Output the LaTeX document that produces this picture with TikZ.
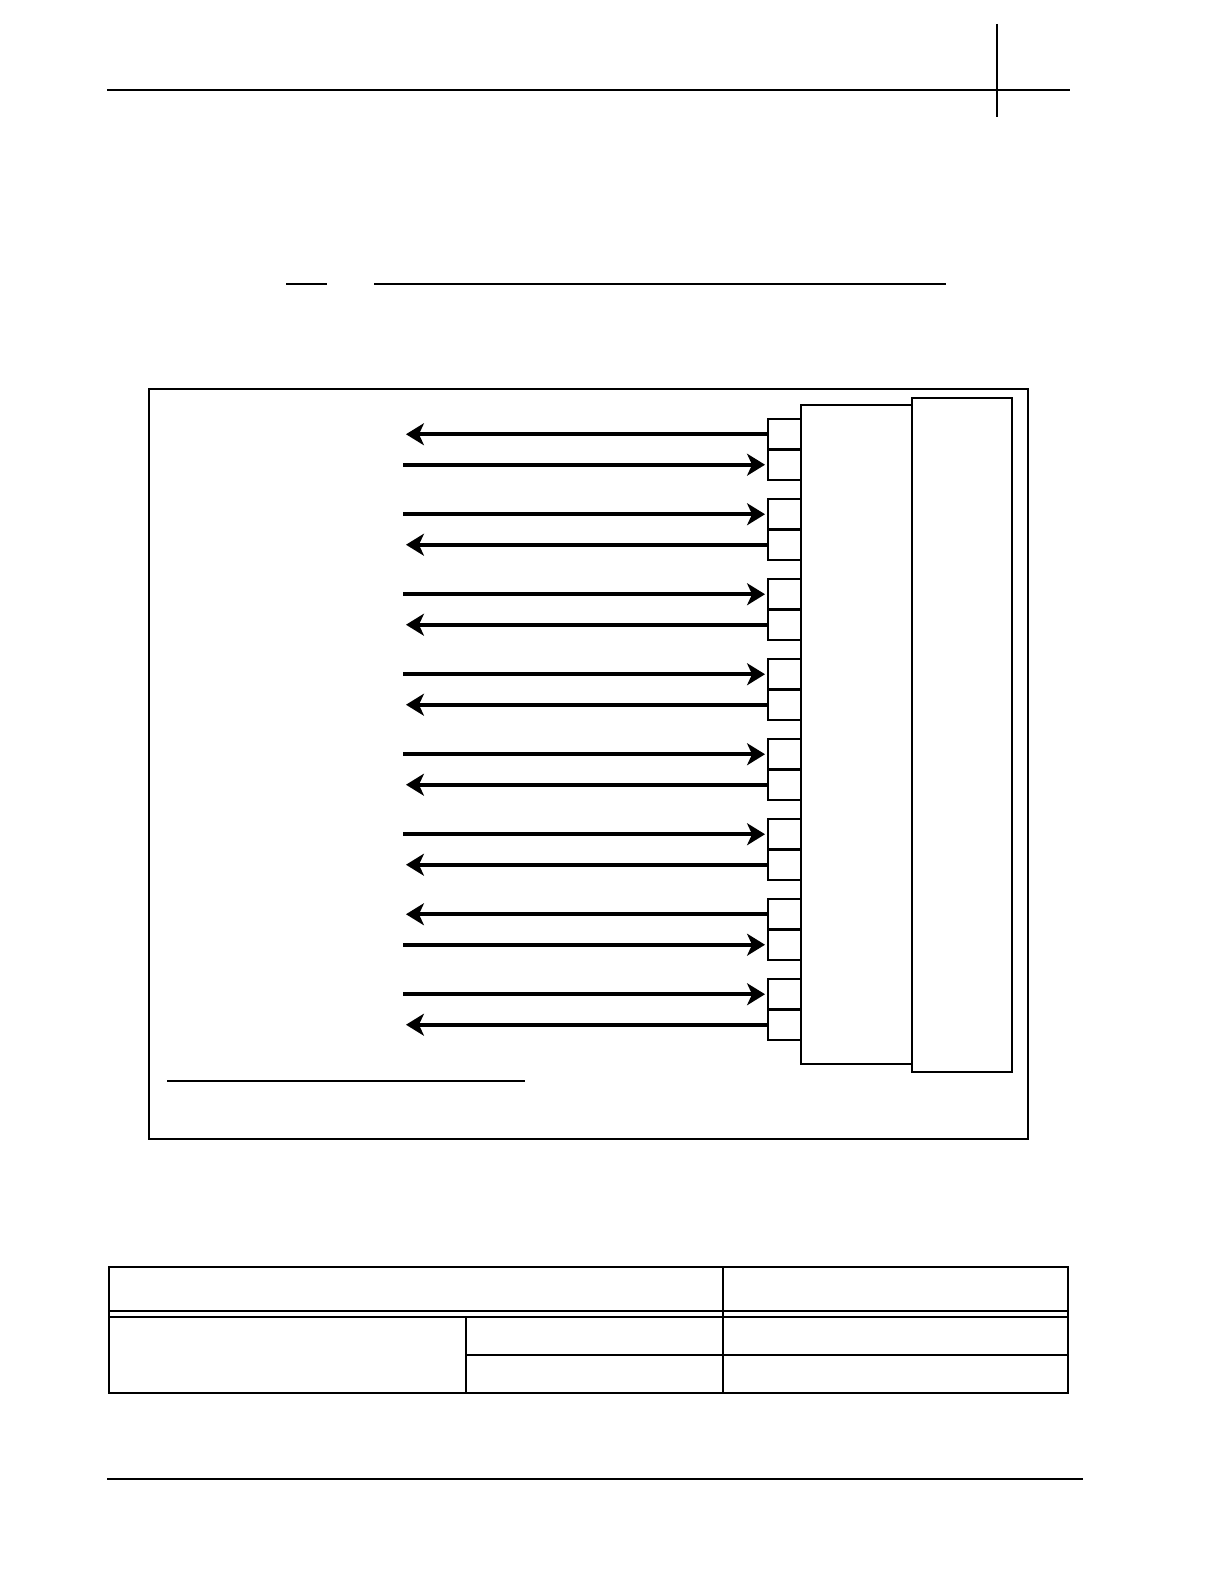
\documentclass[tikz,border=0pt]{standalone}
\usepackage{tikz}
\usetikzlibrary{arrows.meta}
\tikzset{
    port-box/.style = {draw, line width=1.1pt, rectangle, inner sep=0pt, outer sep=0pt, minimum width=16.56pt, minimum height=15.3pt},
    signal/.style = {line width=2pt},
    sig-in/.style = {-{Stealth[length=9pt, width=11pt, inset=2.5pt]}, shorten >=1.5pt},
    sig-out/.style = {{Stealth[length=9pt, width=11pt, inset=2.5pt]}-, shorten <=1.5pt},
    rule-thin/.style = {line width=0.7pt},
}

\begin{document}
\begin{tikzpicture}[x=0.50188pt, y=-0.50188pt]
\useasboundingbox (0,0) rectangle (1224,1584);

% page header and crop mark
\draw[line width=1.5pt] (107,90) -- (1070,90);
\draw[line width=1pt] (997,24) -- (997,117);
\draw[rule-thin] (286,284) -- (327,284);
\draw[rule-thin] (374,284) -- (946,284);

% figure frame
\draw[line width=0.75pt] (149,389) rectangle (1028,1139);
\draw[line width=0.7pt] (801,405) rectangle (912,1064);
\draw[line width=1pt] (912,398) rectangle (1012,1072);

% ports and signals
\foreach \i/\ua/\ub in {1/sig-out/sig-in, 2/sig-in/sig-out, 3/sig-in/sig-out, 4/sig-in/sig-out,
                        5/sig-in/sig-out, 6/sig-in/sig-out, 7/sig-out/sig-in, 8/sig-in/sig-out}{
    \node[port-box, anchor=north west] (p\i a) at (768,{419+80*(\i-1)}) {};
    \node[port-box, anchor=north] (p\i b) at (p\i a.south) {};
    \path (p\i a.west) ++(-365,0) coordinate (s\i a);
    \path (p\i b.west) ++(-365,0) coordinate (s\i b);
    \draw[signal, \ua] (s\i a) -- (p\i a.west);
    \draw[signal, \ub] (s\i b) -- (p\i b.west);
}

\draw[rule-thin] (167,1081) -- (525,1081);

% table
\draw[line width=0.75pt] (109,1267) rectangle (1068,1393);
\draw[line width=0.75pt] (109,1311) -- (1068,1311);
\draw[line width=0.75pt] (109,1317) -- (1068,1317);
\draw[line width=0.75pt] (723,1267) -- (723,1393);
\draw[line width=0.75pt] (466,1317) -- (466,1393);
\draw[line width=0.75pt] (466,1355) -- (1068,1355);

% footer
\draw[line width=1pt] (107,1479) -- (1083,1479);
\end{tikzpicture}
\end{document}
